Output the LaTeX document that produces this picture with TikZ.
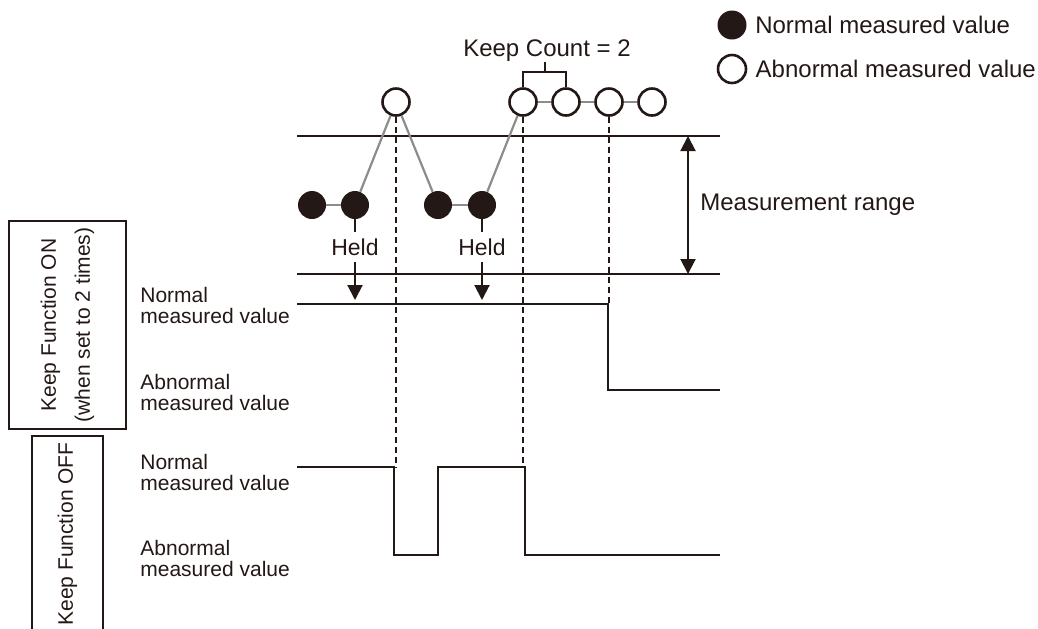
\documentclass[tikz,border=0pt]{standalone}
\usepackage{fontspec}
\setmainfont{Liberation Sans}
\usetikzlibrary{positioning,arrows.meta}
\definecolor{ink}{RGB}{35,24,21}
\definecolor{linkgray}{RGB}{140,140,140}

\begin{document}
\begin{tikzpicture}[x=0.5pt, y=-0.5pt,
  every node/.style={text=ink},
  okdot/.style={circle, fill=ink, inner sep=0pt, minimum size=14pt},
  ngdot/.style={circle, draw=ink, fill=white, line width=1.3pt, inner sep=0pt, minimum size=13.5pt},
  wire/.style={draw=linkgray, line width=1.1pt},
  lvl/.style={draw=ink, line width=1pt},
  guide/.style={draw=ink, line width=1pt, dash pattern=on 3pt off 2pt},
  arr/.style={-{Triangle[length=7.5pt,width=7.5pt]}, draw=ink, line width=1pt},
  lbl/.style={font=\fontsize{10.5}{10.5}\selectfont, align=left, anchor=west, inner sep=0pt},
  txt/.style={font=\fontsize{12}{14}\selectfont, inner sep=0pt},
  modebox/.style={draw=ink, line width=1pt, rotate=90, align=center, minimum width=98pt,
                  font=\fontsize{10.5}{17}\selectfont}
]
  \useasboundingbox (0,0) rectangle (1038,628);
  \clip (0,0) rectangle (1038,628);

  % legend
  \node[okdot, minimum size=14.5pt] (leg1) at (732,25) {};
  \node[ngdot, minimum size=14pt] (leg2) at (732,69) {};
  \node[txt, right=4pt of leg1] (legt1) {Normal measured value};
  \node[txt, right=4pt of leg2] (legt2) {Abnormal measured value};

  % measurement range
  \coordinate (rtop) at (688,136);
  \coordinate (rbot) at (688,274);
  \draw[lvl] (297,136) -- (720,136);
  \draw[lvl] (297,274) -- (720,274);
  \draw[arr, {Triangle[length=7.5pt,width=7.5pt]}-{Triangle[length=7.5pt,width=7.5pt]}] (rtop) -- (rbot);
  \node[txt, anchor=west] (rng) at (700,205) {Measurement range};

  % measured values
  \node[okdot] (f1) at (312,205) {};
  \node[okdot] (f2) at (355,205) {};
  \node[okdot] (f3) at (438,205) {};
  \node[okdot] (f4) at (482,205) {};
  \node[ngdot] (a1) at (396,102) {};
  \node[ngdot] (a2) at (523,102) {};
  \node[ngdot] (a3) at (566,102) {};
  \node[ngdot] (a4) at (609,102) {};
  \node[ngdot] (a5) at (652,102) {};
  \draw[wire] (f1) -- (f2);
  \draw[wire] (f2) -- (a1);
  \draw[wire] (a1) -- (f3);
  \draw[wire] (f3) -- (f4);
  \draw[wire] (f4) -- (a2);
  \draw[wire] (a2) -- (a3);
  \draw[wire] (a3) -- (a4);
  \draw[wire] (a4) -- (a5);

  % keep count bracket
  \node[txt] (kc) at (547,51) {Keep Count = 2};
  \coordinate (kcb) at (545,72);
  \draw[lvl] (a2.north) |- (kcb) -| (a3.north);
  \draw[lvl] (kcb) -- (kc.south -| kcb);

  % held values
  \node[txt, font=\fontsize{11.5}{13}\selectfont, inner sep=3pt] (held1) at (355,247) {Held};
  \node[txt, font=\fontsize{11.5}{13}\selectfont, inner sep=3pt] (held2) at (482,247) {Held};
  \coordinate (hold1) at (355,300);
  \coordinate (hold2) at (482,300);
  \draw[lvl] (f2.south) -- (held1.north);
  \draw[lvl] (f4.south) -- (held2.north);
  \draw[arr] (held1.south) -- (hold1);
  \draw[arr] (held2.south) -- (hold2);

  % keep function ON
  \node[modebox, minimum height=58.5pt] (onbox) at (67.5,325) {Keep Function ON\\(when set to 2 times)};
  \node[lbl] (onhi) at (140,305) {Normal\\measured value};
  \node[lbl] (onlo) at (140,392) {Abnormal\\measured value};
  \coordinate (onS) at (608,304);
  \draw[lvl] (297,304) -- (onS) |- (720,390);

  % keep function OFF
  \node[modebox, minimum height=35.5pt] (offbox) at (67.5,534) {Keep Function OFF};
  \node[lbl] (offhi) at (140,472) {Normal\\measured value};
  \node[lbl] (offlo) at (140,558) {Abnormal\\measured value};
  \draw[lvl] (297,467) -- (394,467) |- (438,555) |- (525,467) |- (720,555);

  % timing guides
  \coordinate (cut1) at (396,467);
  \coordinate (cut2) at (523,467);
  \coordinate (cut3) at (609,304);
  \draw[guide] (a1.south) -- (cut1);
  \draw[guide] (a2.south) -- (cut2);
  \draw[guide] (a4.south) -- (cut3);
\end{tikzpicture}
\end{document}
